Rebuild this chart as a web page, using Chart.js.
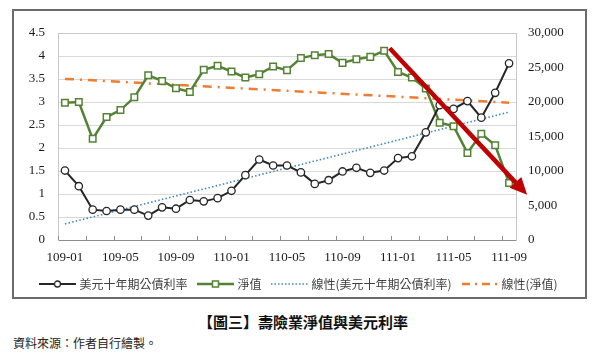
<!DOCTYPE html>
<html><head><meta charset="utf-8">
<script src="https://cdn.jsdelivr.net/npm/chart.js@4/dist/chart.umd.min.js"></script>
<style>
html,body{margin:0;padding:0;background:#fff;width:600px;height:361px;overflow:hidden;}
#frame{position:absolute;left:12px;top:9px;width:571px;height:286px;border:2px solid #6b6b6b;}
#frame canvas{display:block;position:absolute;left:0;top:0;}
#title{position:absolute;left:0;width:606px;top:312px;line-height:20px;text-align:center;font-family:"Noto Sans CJK TC";font-weight:700;font-size:15px;color:#111;}
#source{position:absolute;left:13px;top:335px;line-height:16px;font-family:"Noto Sans CJK TC";font-size:12px;color:#222;}
</style></head>
<body>
<div id="frame"><canvas id="c" width="571" height="289"></canvas></div>
<div id="title">【圖三】壽險業淨值與美元利率</div>
<div id="source">資料來源：作者自行繪製。</div>
<script>
// ---- data ----
const categories = ['109-01','109-02','109-03','109-04','109-05','109-06','109-07','109-08','109-09','109-10','109-11','109-12',
                    '110-01','110-02','110-03','110-04','110-05','110-06','110-07','110-08','110-09','110-10','110-11','110-12',
                    '111-01','111-02','111-03','111-04','111-05','111-06','111-07','111-08','111-09'];
// US 10-year treasury yield (left axis, %)
const rate = [1.51,1.17,0.66,0.63,0.66,0.66,0.53,0.71,0.68,0.87,0.84,0.91,
              1.07,1.41,1.75,1.62,1.62,1.47,1.22,1.30,1.49,1.57,1.46,1.51,
              1.78,1.82,2.34,2.93,2.85,3.02,2.66,3.20,3.84];
// Life-insurance industry net worth (right axis)
const netValue = [19900,20000,14660,17820,18830,20680,23880,23060,21990,21460,24660,25240,
                  24420,23540,24030,25150,24610,26360,26790,26940,25670,26210,26540,27420,
                  24360,23540,21940,16990,16500,12620,15390,13730,8250];
// Linear trend lines: value at first and last month
const rateTrendEnds = [0.35, 2.78];
const netTrendEnds = [23350, 19900];
const seriesNames = ['美元十年期公債利率','淨值','線性(美元十年期公債利率)','線性(淨值)'];
const xLabelEvery = 4;
const leftAxis = {min:0, max:4.5, step:0.5};
const rightAxis = {min:0, max:30000, step:5000};
// red annotation arrow, in data space (category index, right-axis value)
const arrowFrom = [23.4, 27800];
const arrowTo = [33.3, 6550];

// ---- styles ----
const C_RATE = '#262626', C_NET = '#548235', C_RT = '#3f86c8', C_NT = '#ED7D31', C_ARROW = '#C00000';
const tickFont = {family:'"Liberation Serif", "Times New Roman", serif', size:13};

function icon(draw){
  const cv = document.createElement('canvas'); cv.width = 37; cv.height = 10;
  const g = cv.getContext('2d'); draw(g); return cv;
}
const legendIcons = [
  icon(g=>{g.strokeStyle=C_RATE;g.lineWidth=2;g.beginPath();g.moveTo(0,5);g.lineTo(37,5);g.stroke();
           g.fillStyle='#fff';g.lineWidth=1.3;g.beginPath();g.arc(18.5,5,3,0,Math.PI*2);g.fill();g.stroke();}),
  icon(g=>{g.strokeStyle=C_NET;g.lineWidth=2.5;g.beginPath();g.moveTo(0,5);g.lineTo(37,5);g.stroke();
           g.fillStyle='#fff';g.lineWidth=1.5;g.fillRect(15.5,2,6,6);g.strokeRect(15.5,2,6,6);}),
  icon(g=>{g.strokeStyle=C_RT;g.lineWidth=1.5;g.setLineDash([1.5,2]);g.beginPath();g.moveTo(0,5);g.lineTo(37,5);g.stroke();}),
  icon(g=>{g.strokeStyle=C_NT;g.lineWidth=2.5;g.setLineDash([8,5,2,5]);g.beginPath();g.moveTo(1,5);g.lineTo(37,5);g.stroke();})
];

const overlay = {
  id:'overlay',
  afterDraw(chart){
    const ctx = chart.ctx, x = chart.scales.x, y1 = chart.scales.y1, ca = chart.chartArea;
    // inside tick marks every 2 categories
    ctx.save();
    ctx.strokeStyle = '#8c8c8c'; ctx.lineWidth = 1;
    for (let i = 0; i <= categories.length; i += 2){
      const px = Math.round(x.getPixelForValue(i - 0.5)) + 0.5;
      ctx.beginPath(); ctx.moveTo(px, ca.bottom); ctx.lineTo(px, ca.bottom - 4); ctx.stroke();
    }
    ctx.restore();
    // red arrow
    const x0 = x.getPixelForValue(arrowFrom[0]), yA = y1.getPixelForValue(arrowFrom[1]);
    const x1 = x.getPixelForValue(arrowTo[0]), yB = y1.getPixelForValue(arrowTo[1]);
    const ang = Math.atan2(yB - yA, x1 - x0), hl = 17, hw = 8;
    const bx = x1 - hl*Math.cos(ang), by = yB - hl*Math.sin(ang);
    ctx.save();
    ctx.strokeStyle = C_ARROW; ctx.fillStyle = C_ARROW; ctx.lineWidth = 4.5; ctx.lineCap='butt';
    ctx.beginPath(); ctx.moveTo(x0, yA); ctx.lineTo(bx + 2*Math.cos(ang), by + 2*Math.sin(ang)); ctx.stroke();
    ctx.beginPath(); ctx.moveTo(x1, yB);
    ctx.lineTo(bx + hw*Math.sin(ang), by - hw*Math.cos(ang));
    ctx.lineTo(bx - hw*Math.sin(ang), by + hw*Math.cos(ang));
    ctx.closePath(); ctx.fill();
    ctx.restore();
  }
};

new Chart(document.getElementById('c'), {
  type:'line',
  data:{
    labels: categories,
    datasets:[
      {label:seriesNames[0], data:rate, yAxisID:'y', borderColor:C_RATE, borderWidth:2,
       pointStyle:'circle', pointRadius:3.7, pointBackgroundColor:'#fff', pointBorderColor:C_RATE, pointBorderWidth:1.3, tension:0},
      {label:seriesNames[1], data:netValue, yAxisID:'y1', borderColor:C_NET, borderWidth:2.5,
       pointStyle:'rect', pointRadius:4.6, pointBackgroundColor:'#fff', pointBorderColor:C_NET, pointBorderWidth:1.5, tension:0},
      {label:seriesNames[2], data:[{x:categories[0], y:rateTrendEnds[0]},{x:categories[categories.length-1], y:rateTrendEnds[1]}],
       yAxisID:'y', borderColor:C_RT, borderWidth:1.6, borderDash:[1.5,2.2], pointRadius:0},
      {label:seriesNames[3], data:[{x:categories[0], y:netTrendEnds[0]},{x:categories[categories.length-1], y:netTrendEnds[1]}],
       yAxisID:'y1', borderColor:C_NT, borderWidth:2.5, borderDash:[9,6,2,6], pointRadius:0}
    ]
  },
  options:{
    responsive:false, animation:false, devicePixelRatio:1,
    layout:{padding:{top:22,left:0,right:0,bottom:0}},
    plugins:{
      tooltip:{enabled:false},
      legend:{position:'bottom',
        labels:{usePointStyle:true, pointStyleWidth:32, boxHeight:10, padding:12, color:'#404040',
          font:{family:'"Noto Sans CJK TC"', size:12},
          generateLabels:(chart)=>chart.data.datasets.map((ds,i)=>({text:ds.label, pointStyle:legendIcons[i], datasetIndex:i,
            hidden:false, fillStyle:'transparent', strokeStyle:'transparent', lineWidth:0, fontColor:'#404040'}))}}
    },
    scales:{
      x:{type:'category', offset:true,
         grid:{display:false, drawTicks:false},
         border:{display:true, color:'#8c8c8c', width:1},
         ticks:{autoSkip:false, maxRotation:0, padding:10, color:'#1a1a1a', font:tickFont,
                callback:(v,i)=> i % xLabelEvery === 0 ? categories[i] : ''},
         afterFit:(s)=>{ s.height = 26; }},
      y:{position:'left', min:leftAxis.min, max:leftAxis.max,
         grid:{color:(c)=> c.index === 9 ? '#c8c8c8' : '#d9d9d9', drawTicks:false, lineWidth:1},
         border:{display:true, color:'#c8c8c8'},
         ticks:{stepSize:leftAxis.step, padding:13, color:'#1a1a1a', font:tickFont,
                callback:(v)=> String(Math.round(v*10)/10)},
         afterFit:(s)=>{ s.width = 44; }},
      y1:{position:'right', min:rightAxis.min, max:rightAxis.max,
         grid:{drawOnChartArea:false, drawTicks:false},
         border:{display:true, color:'#c8c8c8'},
         ticks:{stepSize:rightAxis.step, padding:12, color:'#1a1a1a', font:tickFont},
         afterFit:(s)=>{ s.width = 69; }}
    }
  },
  plugins:[overlay]
});
</script>
</body></html>
